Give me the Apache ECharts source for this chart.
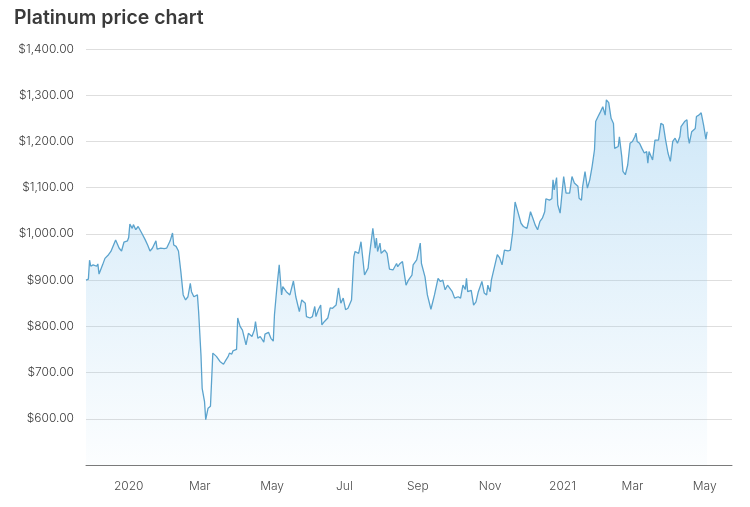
<!DOCTYPE html>
<html>
<head>
<meta charset="utf-8">
<script src="https://cdn.jsdelivr.net/npm/echarts@6/dist/echarts.min.js"></script>
<style>
html,body{margin:0;padding:0;background:#fff;}
#chart{width:750px;height:507px;}
</style>
</head>
<body>
<div id="chart"></div>
<script>
var title = 'Platinum price chart';
var dates = [
'2019-11-26','2019-11-28','2019-11-29','2019-11-30','2019-12-02','2019-12-05','2019-12-06','2019-12-07','2019-12-10','2019-12-12',
'2019-12-15','2019-12-17','2019-12-21','2019-12-24','2019-12-26','2019-12-28','2019-12-31','2020-01-01','2020-01-02','2020-01-04',
'2020-01-05','2020-01-07','2020-01-09','2020-01-12','2020-01-15','2020-01-17','2020-01-19','2020-01-21','2020-01-22','2020-01-24',
'2020-01-25','2020-01-28','2020-01-31','2020-02-02','2020-02-05','2020-02-07','2020-02-08','2020-02-10','2020-02-12','2020-02-14',
'2020-02-16','2020-02-18','2020-02-20','2020-02-22','2020-02-23','2020-02-25','2020-02-28','2020-02-29','2020-03-02','2020-03-03',
'2020-03-05','2020-03-06','2020-03-08','2020-03-10','2020-03-12','2020-03-15','2020-03-18','2020-03-21','2020-03-23','2020-03-25',
'2020-03-26','2020-03-28','2020-03-29','2020-04-01','2020-04-02','2020-04-04','2020-04-06','2020-04-07','2020-04-09','2020-04-11',
'2020-04-14','2020-04-16','2020-04-17','2020-04-19','2020-04-21','2020-04-22','2020-04-24','2020-04-25','2020-04-28','2020-04-30',
'2020-05-02','2020-05-03','2020-05-05','2020-05-07','2020-05-09','2020-05-10','2020-05-13','2020-05-16','2020-05-19','2020-05-21',
'2020-05-22','2020-05-24','2020-05-26','2020-05-29','2020-05-30','2020-06-02','2020-06-04','2020-06-06','2020-06-07','2020-06-09',
'2020-06-11','2020-06-12','2020-06-14','2020-06-17','2020-06-19','2020-06-21','2020-06-24','2020-06-26','2020-06-28','2020-06-30',
'2020-07-02','2020-07-04','2020-07-07','2020-07-09','2020-07-10','2020-07-13','2020-07-15','2020-07-18','2020-07-21','2020-07-22',
'2020-07-25','2020-07-27','2020-07-28','2020-07-29','2020-07-31','2020-08-01','2020-08-04','2020-08-06','2020-08-08','2020-08-11',
'2020-08-12','2020-08-14','2020-08-15','2020-08-17','2020-08-19','2020-08-20','2020-08-22','2020-08-24','2020-08-27','2020-08-28',
'2020-08-31','2020-09-03','2020-09-04','2020-09-07','2020-09-09','2020-09-12','2020-09-15','2020-09-18','2020-09-20','2020-09-22',
'2020-09-24','2020-09-26','2020-09-30','2020-10-02','2020-10-05','2020-10-07','2020-10-09','2020-10-11','2020-10-12','2020-10-13',
'2020-10-16','2020-10-18','2020-10-20','2020-10-22','2020-10-25','2020-10-27','2020-10-29','2020-10-30','2020-11-01','2020-11-02',
'2020-11-05','2020-11-07','2020-11-09','2020-11-11','2020-11-13','2020-11-16','2020-11-18','2020-11-20','2020-11-22','2020-11-24',
'2020-11-27','2020-11-29','2020-12-02','2020-12-03','2020-12-05','2020-12-07','2020-12-09','2020-12-11','2020-12-13','2020-12-15',
'2020-12-17','2020-12-18','2020-12-21','2020-12-23','2020-12-24','2020-12-25','2020-12-27','2020-12-28','2020-12-30','2021-01-01',
'2021-01-02','2021-01-04','2021-01-07','2021-01-09','2021-01-11','2021-01-14','2021-01-15','2021-01-17','2021-01-18','2021-01-20',
'2021-01-22','2021-01-24','2021-01-26','2021-01-28','2021-01-29','2021-01-31','2021-02-02','2021-02-04','2021-02-06','2021-02-07',
'2021-02-09','2021-02-11','2021-02-13','2021-02-14','2021-02-17','2021-02-18','2021-02-20','2021-02-21','2021-02-23','2021-02-25',
'2021-02-27','2021-03-01','2021-03-03','2021-03-04','2021-03-05','2021-03-07','2021-03-09','2021-03-11','2021-03-13','2021-03-14',
'2021-03-15','2021-03-16','2021-03-18','2021-03-20','2021-03-23','2021-03-25','2021-03-27','2021-03-29','2021-03-31','2021-04-02',
'2021-04-04','2021-04-06','2021-04-07','2021-04-08','2021-04-10','2021-04-11','2021-04-14','2021-04-16','2021-04-17','2021-04-18',
'2021-04-20','2021-04-23','2021-04-24','2021-04-26','2021-04-28','2021-04-30','2021-05-02','2021-05-03'
];
var prices = [
900,902,943,930,933,930,935,913,933,947,
955,962,987,969,963,982,985,992,1021,1012,
1020,1009,1016,1002,987,976,963,969,965,985,
967,969,968,969,985,1002,976,973,963,919,
868,857,864,893,875,864,868,832,738,666,
637,598,623,627,742,735,724,718,727,735,
742,740,747,750,818,800,792,790,760,785,
778,792,810,774,778,780,766,783,787,774,
768,825,883,933,868,886,875,868,898,864,
861,832,857,850,821,818,821,843,821,836,
846,803,810,818,840,839,846,883,850,861,
836,839,857,951,962,958,983,911,926,951,
1012,969,991,962,980,958,965,958,924,922,
924,936,929,936,940,938,889,900,911,933,
944,980,936,907,868,837,868,904,897,900,
879,889,875,861,864,861,889,880,904,875,
878,846,853,875,897,872,868,889,875,900,
933,955,948,933,965,963,965,1004,1069,1051,
1023,1016,1012,1023,1048,1034,1019,1009,1027,1034,
1048,1076,1073,1076,1117,1095,1122,1063,1045,1099,
1124,1088,1088,1124,1110,1103,1077,1073,1103,1135,
1099,1117,1146,1182,1243,1254,1264,1275,1257,1290,
1284,1250,1239,1185,1189,1210,1167,1135,1128,1149,
1196,1200,1210,1218,1200,1196,1185,1175,1178,1153,
1178,1176,1160,1203,1203,1239,1236,1203,1175,1157,
1200,1207,1203,1196,1210,1232,1243,1247,1210,1196,
1221,1228,1254,1257,1262,1236,1205,1221
];
var xTickDates = ['2020-01-01','2020-03-01','2020-05-01','2020-07-01','2020-09-01','2020-11-01','2021-01-01','2021-03-01','2021-05-01'];
var monthNames = ['Jan','Feb','Mar','Apr','May','Jun','Jul','Aug','Sep','Oct','Nov','Dec'];
var xMinDate = '2019-11-26';
var xMaxDate = '2021-05-24';
var yMin = 500, yMax = 1400, yStep = 100;

function ts(s){ var p = s.split('-'); return Date.UTC(+p[0], +p[1]-1, +p[2]); }
function money(v){
  var s = Math.round(v).toString().replace(/\B(?=(\d{3})+(?!\d))/g, ',');
  return '$' + s + '.00';
}
function dateLabel(v){
  var d = new Date(v);
  return d.getUTCMonth() === 0 ? String(d.getUTCFullYear()) : monthNames[d.getUTCMonth()];
}
var seriesData = dates.map(function(d,i){ return [ts(d), prices[i]]; });

var chart = echarts.init(document.getElementById('chart'), null, {renderer:'canvas'});
chart.setOption({
  backgroundColor: '#ffffff',
  animation: false,
  title: {
    text: title,
    left: 9, top: 3,
    textStyle: {fontFamily: 'Inter', fontSize: 19.5, fontWeight: 600, color: '#3a3a3a'}
  },
  grid: {left: 86, right: 18, top: 49, bottom: 42, containLabel: false},
  xAxis: {
    type: 'value',
    min: ts(xMinDate), max: ts(xMaxDate),
    axisLine: {show: true, lineStyle: {color: '#7a7a7a', width: 1}},
    axisTick: {show: false},
    splitLine: {show: false},
    axisLabel: {
      customValues: xTickDates.map(ts),
      margin: 15,
      fontFamily: 'Inter', fontSize: 12, fontWeight: 300, color: '#4a4a4a',
      formatter: dateLabel
    }
  },
  yAxis: {
    type: 'value',
    min: yMin, max: yMax, interval: yStep,
    axisLine: {show: false},
    axisTick: {show: false},
    splitLine: {show: true, lineStyle: {color: '#dedede', width: 1}},
    axisLabel: {
      margin: 12,
      fontFamily: 'Inter', fontSize: 12, fontWeight: 300, color: '#3a3a3a',
      formatter: function(v){ return v === yMin ? '' : money(v); }
    }
  },
  series: [{
    type: 'line',
    data: seriesData,
    symbol: 'none',
    smooth: false,
    lineStyle: {color: '#5ba3cd', width: 1.3},
    areaStyle: {
      color: new echarts.graphic.LinearGradient(0, 0, 0, 1, [
        {offset: 0, color: 'rgba(140,199,238,0.6)'},
        {offset: 1, color: 'rgba(140,199,238,0.04)'}
      ])
    }
  }]
});
</script>
</body>
</html>
